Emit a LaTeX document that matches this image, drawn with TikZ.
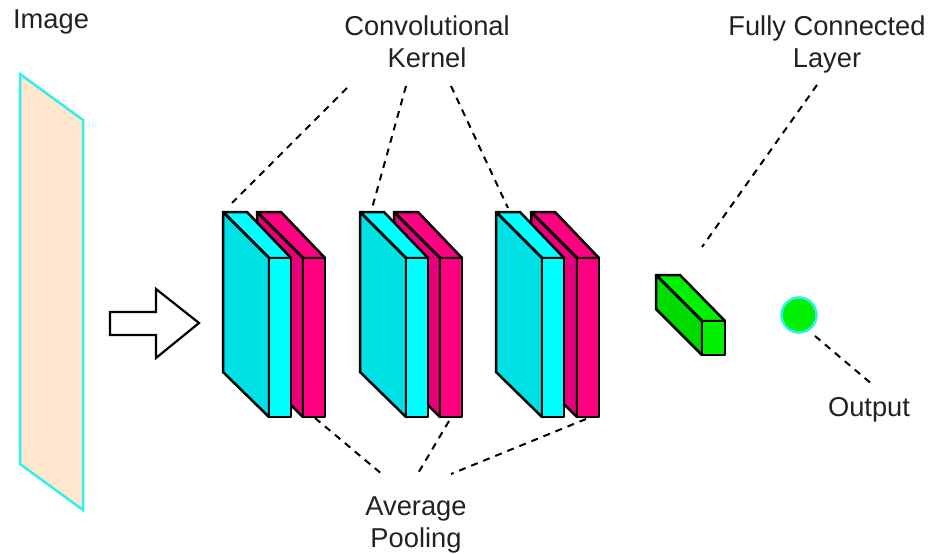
\documentclass[tikz,border=0pt]{standalone}
\usepackage{fontspec}
\setmainfont{Liberation Sans}
\definecolor{plate}{HTML}{FFE6CC}
\definecolor{plateline}{HTML}{33EEEE}
\definecolor{cyanF}{HTML}{00FFFF}
\definecolor{cyanS}{HTML}{00E1E6}
\definecolor{pinkF}{HTML}{FF0080}
\definecolor{pinkS}{HTML}{E6007A}
\definecolor{greenF}{HTML}{00F000}
\definecolor{greenS}{HTML}{00DC00}
\definecolor{ink}{HTML}{222222}
\tikzset{
  x=1pt,y=-1pt,
  face/.style={draw=black,line width=2.5pt,line join=round},
  lead/.style={draw=black,line width=2pt,dash pattern=on 7pt off 6pt},
  lbl/.style={font=\fontsize{27.3}{32}\selectfont,text=ink,align=center,inner sep=0pt},
  pics/slab/.style n args={3}{code={
    \path[face,fill=#2] (0,0)--(24,0)--(68,46)--(46,46)--cycle;
    \path[face,fill=#3] (0,0)--(46,46)--(46,205)--(0,160)--cycle;
    \path[face,fill=#1] (46,46)--(68,46)--(68,205)--(46,205)--cycle;
  }},
}
\begin{document}
\begin{tikzpicture}
\useasboundingbox (0,0) rectangle (930,554);
% image plate
\path[draw=plateline,line width=2.5pt,fill=plate,line join=miter] (20,74)--(83,120)--(83,510)--(20,464)--cycle;
% arrow
\path[draw=black,line width=2.2pt,fill=white,line join=miter] (110,312)--(156,312)--(156,289)--(199,323)--(156,358)--(156,335)--(110,335)--cycle;
% convolution / pooling blocks
\foreach \dx/\px in {0/0,137/137,273/274}{
  \pic at (257+\px,212) {slab={pinkF}{pinkF}{pinkS}};
  \pic at (223+\dx,212) {slab={cyanF}{cyanF}{cyanS}};
}
% fully connected
\path[face,fill=greenF] (656,275)--(680,275)--(725,321)--(702,321)--cycle;
\path[face,fill=greenS] (656,275)--(702,321)--(702,355)--(656,309)--cycle;
\path[face,fill=greenF] (702,321)--(725,321)--(725,355)--(702,355)--cycle;
% output
\node[circle,fill=greenF,draw=plateline,line width=2.5pt,minimum size=35,inner sep=0pt] (out) at (799,315) {};
% labels
\node[lbl] (image) at (51,22) {Image};
\node[lbl] (conv) at (427,42) {Convolutional\\Kernel};
\node[lbl] (fc) at (827,44) {Fully Connected\\Layer};
\node[lbl] (pool) at (416,525) {Average\\Pooling};
\node[lbl] (output) at (869,410) {Output};
% leader lines
\foreach \n/\a/\b/\c/\d in {a/347/88/232/203,b/406/86/371/212,c/451/86/508/208,d/315/418/383/475,e/449/421/417/475,f/586/419/451/474,g/817/85/702/247,h/815/336/873/385}{
  \coordinate (\n1) at (\a,\b);
  \coordinate (\n2) at (\c,\d);
  \draw[lead] (\n1)--(\n2);
}
\end{tikzpicture}
\end{document}
